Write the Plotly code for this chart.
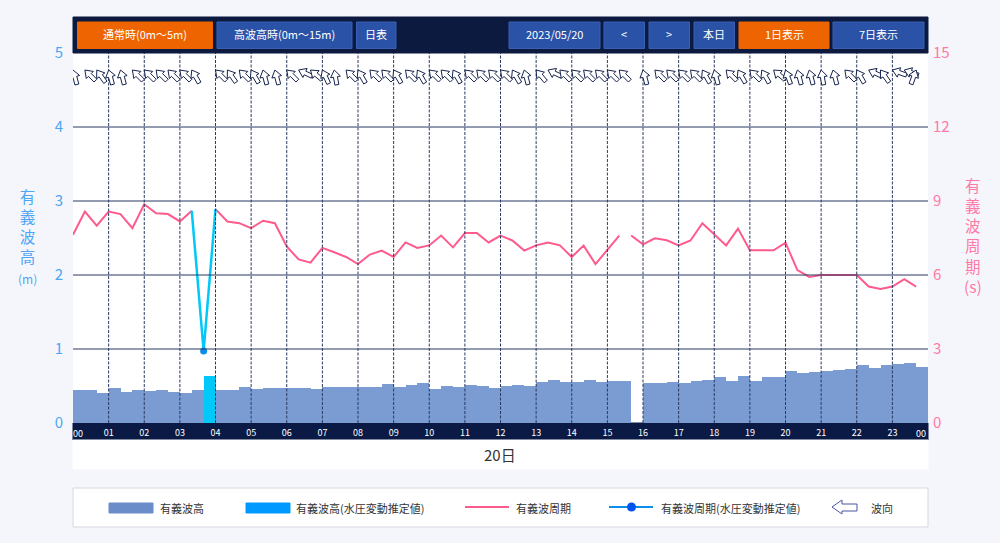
import math
import plotly.graph_objects as go

# 20 minute samples, 00:00 - 23:40 (72 values)
wave_height = [
    0.44, 0.44, 0.41, 0.47, 0.42, 0.44, 0.43, 0.44, 0.42, 0.41, 0.44, None,
    0.44, 0.45, 0.48, 0.455, 0.47, 0.47, 0.47, 0.47, 0.455, 0.49, 0.48, 0.48,
    0.49, 0.49, 0.53, 0.485, 0.51, 0.535, 0.455, 0.505, 0.49, 0.51, 0.50, 0.47,
    0.505, 0.51, 0.495, 0.555, 0.575, 0.555, 0.555, 0.585, 0.555, 0.57, 0.57, None,
    0.545, 0.545, 0.555, 0.545, 0.57, 0.585, 0.615, 0.57, 0.635, 0.57, 0.615, 0.615,
    0.70, 0.675, 0.695, 0.70, 0.72, 0.735, 0.785, 0.75, 0.785, 0.80, 0.81, 0.76,
]
wave_height_est = [None] * 72
wave_height_est[11] = 0.635

wave_period = [
    7.63, 8.57, 8.0, 8.57, 8.47, 7.9, 8.87, 8.5, 8.47, 8.17, 8.6, None,
    8.67, 8.17, 8.1, 7.9, 8.2, 8.1, 7.16, 6.63, 6.5, 7.1, 6.92, 6.73,
    6.44, 6.83, 6.99, 6.73, 7.32, 7.1, 7.2, 7.6, 7.12, 7.7, 7.7, 7.32,
    7.6, 7.4, 6.99, 7.2, 7.32, 7.2, 6.73, 7.19, 6.44, 7.0, 7.6, 7.6,
    7.24, 7.49, 7.41, 7.2, 7.4, 8.1, 7.63, 7.2, 7.88, 7.0, 7.0, 7.0,
    7.31, 6.2, 5.92, 6.0, 6.0, 6.0, 6.0, 5.53, 5.43, 5.53, 5.83, 5.53,
]
# the line has a break after this sample
period_break = 46

period_est = [None] * 72
period_est[10] = 8.6
period_est[11] = 2.92
period_est[12] = 8.67
period_est_marker = 11

# degrees clockwise from north
wave_dir = [
    -15, -45, -35, -15, -15, -45, -45, -45, -45, -45, -30, None,
    -45, -35, -45, -30, -15, -15, -45, -65, -50, -25, -10, -45,
    -30, -45, -45, -30, -45, -30, -45, -45, -30, -45, -45, -45,
    -45, -30, -15, -40, -65, -45, -45, -45, -45, -45, -45, None,
    -15, -45, -45, -45, -45, -30, -15, -45, -30, -45, -30, -50,
    -20, -15, -15, -10, -15, -45, -30, -65, -35, -70, -70, 20,
]

hour_labels = ["%02d" % h for h in range(24)] + ["00"]
left_ticks = [0, 1, 2, 3, 4, 5]
right_ticks = [0, 3, 6, 9, 12, 15]
left_title = ["有", "義", "波", "高"]
right_title = ["有", "義", "波", "周", "期"]
date_label = "20日"

left_buttons = ["通常時(0m〜5m)", "高波高時(0m〜15m)", "日表"]
right_buttons = ["2023/05/20", "<", ">", "本日", "1日表示", "7日表示"]
legend_labels = ["有義波高", "有義波高(水圧変動推定値)", "有義波周期", "有義波周期(水圧変動推定値)", "波向"]

FONT = "Noto Sans CJK JP"
NAVY = "#0d1a40"
BLUE_BTN = "#2a52a6"
ORANGE = "#ee6400"
BAR = "#7a9cd2"
CYAN = "#00c8f8"
PINK = "#ff5a8c"
LEFT_C = "#4da6f5"
RIGHT_C = "#ff79a6"
GRID = "#2a3862"

L, R, T, B = 73, 928, 53, 423


# pixel position in the page -> paper coordinates
def px(x):
    return (x - L) / (R - L)


def py(y):
    return (B - y) / (B - T)


def box(x0, y0, x1, y1, fill, line=None, layer="above"):
    return dict(type="rect", xref="paper", yref="paper", x0=px(x0), x1=px(x1), y0=py(y0), y1=py(y1),
                fillcolor=fill, line=dict(color=line or fill, width=1), layer=layer)


def label(x, y, text, size=11, color="#333333", xanchor="center"):
    return dict(xref="paper", yref="paper", x=px(x), y=py(y), text=text, showarrow=False, xanchor=xanchor,
                yanchor="middle", font=dict(family=FONT, size=size, color=color))


hours = [i / 3 for i in range(72)]
bar_x = [h + 1 / 6 for h in hours]

fig = go.Figure()
fig.add_trace(go.Bar(x=bar_x, y=wave_height, width=1 / 3, marker=dict(color=BAR, line=dict(width=0)), yaxis="y"))
fig.add_trace(go.Bar(x=bar_x, y=wave_height_est, width=1 / 3, marker=dict(color=CYAN, line=dict(width=0)), yaxis="y"))

for part in (range(0, period_break + 1), range(period_break + 1, 72)):
    fig.add_trace(go.Scatter(x=[hours[i] for i in part], y=[wave_period[i] for i in part], mode="lines",
                             line=dict(color=PINK, width=2), yaxis="y2", connectgaps=False))

fig.add_trace(go.Scatter(x=hours, y=period_est, mode="lines", line=dict(color=CYAN, width=2.5), yaxis="y2"))
fig.add_trace(go.Scatter(x=[hours[period_est_marker]], y=[period_est[period_est_marker]], mode="markers",
                         marker=dict(color="#0a8fe8", size=7), yaxis="y2"))

shapes = []
annotations = []

# grid sits on top of the marks in the original
for v in left_ticks[1:-1]:
    shapes.append(dict(type="line", xref="paper", yref="y", x0=0, x1=1, y0=v, y1=v,
                       line=dict(color=GRID, width=1), layer="above"))
for h in range(1, 24):
    shapes.append(dict(type="line", xref="x", yref="paper", x0=h, x1=h, y0=0, y1=1,
                       line=dict(color=GRID, width=1, dash="3px,1.5px"), layer="above"))

# direction arrows, rotated round the tip
ARROW = [(0, 0), (5, -7), (2, -7), (2, -15), (-2, -15), (-2, -7), (-5, -7)]
for h, d in zip(hours, wave_dir):
    if d is None:
        continue
    a = math.radians(d)
    pts = [(x * math.cos(a) + y * math.sin(a), -x * math.sin(a) + y * math.cos(a)) for x, y in ARROW]
    path = "M" + " L".join("%.2f,%.2f" % p for p in pts) + " Z"
    shapes.append(dict(type="path", xref="x", yref="y", xsizemode="pixel", ysizemode="pixel", xanchor=h, yanchor=4.77,
                       path=path, fillcolor="white", line=dict(color="#16234d", width=1), layer="above"))

# header bar and buttons
shapes.append(box(L, 17, R, T, NAVY))
left_pos = [(77.5, 212.5, ORANGE), (217, 352, BLUE_BTN), (356.5, 396, BLUE_BTN)]
right_pos = [(509, 600, BLUE_BTN), (604, 644.5, BLUE_BTN), (649, 689.5, BLUE_BTN), (694, 734.5, BLUE_BTN),
             (739, 829, ORANGE), (833, 924, BLUE_BTN)]
for text, (x0, x1, c) in zip(left_buttons + right_buttons, left_pos + right_pos):
    shapes.append(box(x0, 22, x1, 48.5, c, line="#3a5fb5" if c == BLUE_BTN else c))
    annotations.append(label((x0 + x1) / 2, 34.5, text, size=11, color="white"))

# bottom strip
shapes.append(box(L, B, R, 440, "#0a1a45", layer="below"))
shapes.append(box(L, 440, R, 469, "white", layer="below"))
annotations.append(label(78, 433.5, hour_labels[0], size=9, color="white"))
annotations.append(label(921, 433.5, hour_labels[-1], size=9, color="white"))
annotations.append(label(500, 454, date_label, size=15))

# stacked axis titles
annotations.append(label(27, 236, "<br>".join(left_title) + "<br><span style='font-size:12px'>(m)</span>",
                         size=15.5, color=LEFT_C))
annotations.append(label(973, 235, "<br>".join(right_title) + "<br>(s)", size=15.5, color=RIGHT_C))

# legend
shapes.append(box(L, 488, R, 527, "white", line="#d5d7e0", layer="below"))
shapes.append(box(109, 503, 153, 513, "#6a8cc8"))
shapes.append(box(246, 503, 290, 513, "#0099ff"))
shapes.append(dict(type="line", xref="paper", yref="paper", x0=px(465), x1=px(509), y0=py(507), y1=py(507),
                   line=dict(color=PINK, width=2)))
shapes.append(dict(type="line", xref="paper", yref="paper", x0=px(609), x1=px(653), y0=py(507), y1=py(507),
                   line=dict(color="#0a8fe8", width=2)))
shapes.append(dict(type="circle", xref="paper", yref="paper", x0=px(627), x1=px(636), y0=py(511.5), y1=py(502.5),
                   fillcolor="#0055ee", line=dict(color="#0055ee", width=0)))
shapes.append(dict(type="path", xref="paper", yref="paper",
                   path="M%f,%f L%f,%f L%f,%f L%f,%f L%f,%f L%f,%f L%f,%f Z" % (
                       px(832), py(507), px(842), py(500), px(842), py(504), px(857), py(504),
                       px(857), py(511), px(842), py(511), px(842), py(514)),
                   fillcolor="white", line=dict(color="#4a55a5", width=1)))
for x, text in zip([158, 294, 514, 659, 869], legend_labels):
    annotations.append(label(x, 507.5, text, size=11, xanchor="left"))

fig.update_layout(
    width=1000, height=543, autosize=False,
    margin=dict(l=L, r=1000 - R, t=T, b=543 - B, pad=0),
    paper_bgcolor="#f5f6fb", plot_bgcolor="white",
    barmode="overlay", bargap=0, showlegend=False,
    font=dict(family=FONT),
    shapes=shapes, annotations=annotations,
    xaxis=dict(range=[0, 24], tickmode="array", tickvals=list(range(1, 24)), ticktext=hour_labels[1:24],
               showgrid=False, zeroline=False, showline=False, ticks="",
               tickfont=dict(family=FONT, size=9, color="white"), ticklabelstandoff=3),
    yaxis=dict(range=[0, 5], tickmode="array", tickvals=left_ticks, showgrid=False, zeroline=False, showline=False,
               ticks="", tickfont=dict(family=FONT, size=15, color=LEFT_C), ticklabelstandoff=9),
    yaxis2=dict(range=[0, 15], tickmode="array", tickvals=right_ticks, overlaying="y", side="right", showgrid=False,
                zeroline=False, showline=False, ticks="", tickfont=dict(family=FONT, size=15, color=RIGHT_C),
                ticklabelstandoff=4),
)

# page margin would shift everything by 8px
fig.write_html("out.html", config={"displayModeBar": False},
               post_script="document.body.style.margin='0';document.body.style.overflow='hidden';")
